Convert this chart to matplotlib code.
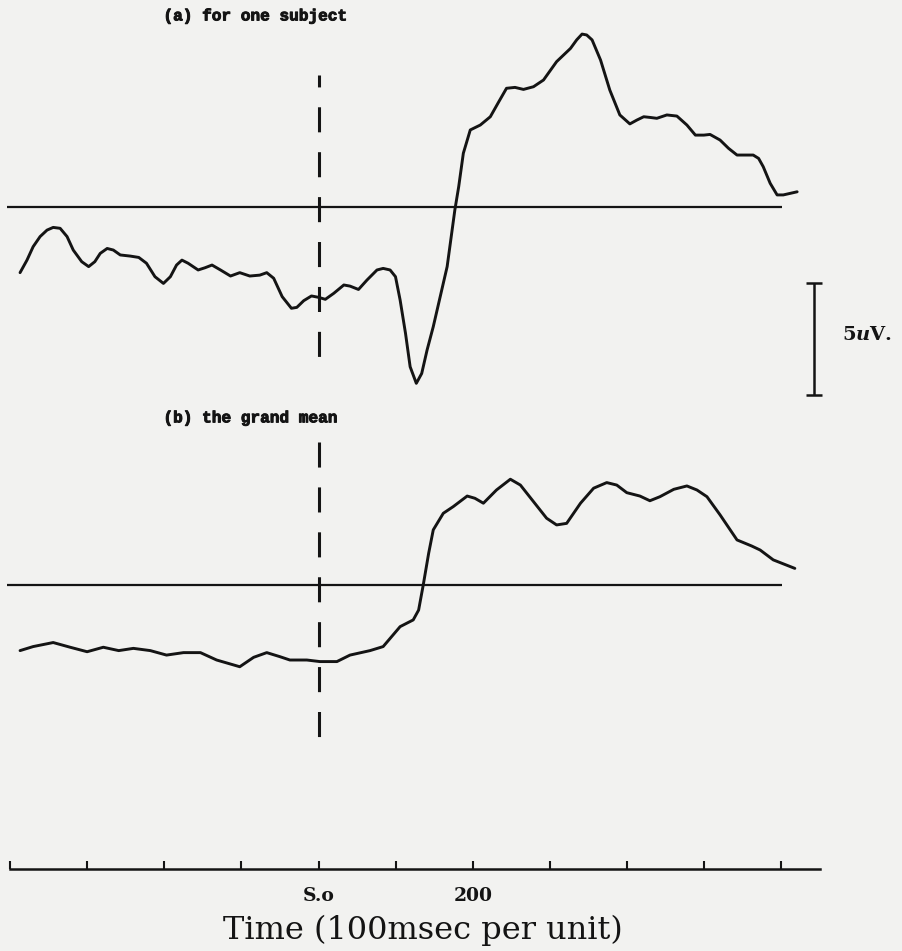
import matplotlib
matplotlib.use('Agg')
import matplotlib.pyplot as plt
import matplotlib.patheffects as pe

# time in ms (0 = stimulus onset), amplitude in uV
t_a = [-388, -379, -371, -362, -353, -345, -336, -327, -319, -308, -299, -291, -284,
       -275, -267, -258, -245, -234, -224, -213, -202, -193, -185, -178, -170, -157,
       -148, -139, -128, -115, -103, -90, -77, -68, -59, -48, -36, -29, -20, -10, -1,
       8, 19, 32, 40, 51, 62, 75, 83, 92, 99, 105, 112, 118, 126, 133, 140, 148, 157,
       166, 176, 181, 187, 196, 209, 222, 233, 243, 254, 265, 278, 291, 308, 326, 334,
       341, 347, 354, 365, 377, 390, 403, 412, 421, 429, 438, 451, 464, 477, 488, 499,
       507, 520, 531, 542, 555, 563, 570, 576, 585, 594, 602, 611, 620]
v_a = [-2.93, -2.37, -1.77, -1.32, -1.03, -0.91, -0.95, -1.32, -1.92, -2.44, -2.66, -2.44,
       -2.07, -1.85, -1.92, -2.14, -2.19, -2.25, -2.51, -3.11, -3.41, -3.11, -2.59, -2.37,
       -2.51, -2.81, -2.71, -2.59, -2.81, -3.08, -2.93, -3.08, -3.04, -2.93, -3.18, -4.00,
       -4.52, -4.48, -4.18, -3.97, -4.03, -4.12, -3.85, -3.48, -3.53, -3.68, -3.26, -2.81,
       -2.74, -2.81, -3.11, -4.15, -5.64, -7.13, -7.87, -7.43, -6.38, -5.34, -4.00, -2.66,
       -0.13, 0.91, 2.40, 3.44, 3.66, 4.03, 4.70, 5.30, 5.34, 5.25, 5.37, 5.67, 6.49, 7.08,
       7.46, 7.72, 7.68, 7.46, 6.56, 5.22, 4.11, 3.71, 3.88, 4.03, 4.00, 3.96, 4.11, 4.06,
       3.66, 3.21, 3.21, 3.24, 2.99, 2.62, 2.32, 2.32, 2.32, 2.17, 1.80, 1.06, 0.54, 0.54,
       0.61, 0.68]

t_b = [-388, -371, -345, -323, -301, -280, -260, -241, -219, -198, -176, -154, -133,
       -103, -85, -68, -51, -38, -16, 1, 23, 40, 66, 83, 105, 122, 129, 135, 142, 148,
       161, 174, 192, 202, 213, 230, 248, 261, 278, 295, 308, 321, 339, 356, 373, 386,
       399, 416, 429, 442, 460, 477, 490, 503, 520, 542, 561, 572, 589, 617]
v_b = [-2.93, -2.75, -2.57, -2.78, -2.98, -2.78, -2.93, -2.83, -2.93, -3.13, -3.02, -3.02,
       -3.35, -3.65, -3.23, -3.02, -3.20, -3.35, -3.35, -3.42, -3.42, -3.13, -2.93, -2.75,
       -1.86, -1.56, -1.12, 0.0, 1.41, 2.46, 3.20, 3.50, 3.97, 3.87, 3.65, 4.24, 4.72, 4.46,
       3.72, 2.98, 2.68, 2.75, 3.65, 4.32, 4.57, 4.46, 4.12, 3.97, 3.76, 3.94, 4.27, 4.42,
       4.24, 3.94, 3.13, 2.01, 1.74, 1.56, 1.12, 0.74]

tick_ms = [-400, -300, -200, -100, 0, 100, 200, 300, 400, 500, 600]
tick_labels = ['', '', '', '', 'S.o', '', '200', '', '', '', '']
scale_uv = 5

paper = '#f2f2f0'
ink = '#141414'

plt.rcParams['mathtext.fontset'] = 'custom'
plt.rcParams['mathtext.rm'] = 'DejaVu Serif:bold'
plt.rcParams['mathtext.it'] = 'DejaVu Serif:italic:bold'

fig = plt.figure(figsize=(9.02, 9.51), dpi=100, facecolor=paper)

xlim = (-414, 756)
ax_a = fig.add_axes([0, 0.5478, 1, 0.4522])
ax_a.set_xlim(xlim)
ax_a.set_ylim(-9.955, 9.241)
ax_b = fig.add_axes([0, 0.1588, 1, 0.3891])
ax_b.set_xlim(xlim)
ax_b.set_ylim(-9.598, 6.920)

for ax in (ax_a, ax_b):
    ax.set_axis_off()
    ax.patch.set_alpha(0)
    ax.hlines(0, -405, 600, color=ink, lw=1.6)

ax_a.plot(t_a, v_a, color=ink, lw=2.1, solid_joinstyle='round', solid_capstyle='round')
ax_b.plot(t_b, v_b, color=ink, lw=2.1, solid_joinstyle='round', solid_capstyle='round')

# stimulus onset
ax_a.plot([0, 0], [5.89, -6.92], color=ink, lw=2.2, linestyle=(4.3, (8.2, 6.5)))
ax_b.plot([0, 0], [6.38, -6.79], color=ink, lw=2.2, linestyle=(0, (8.2, 6.5)))

heavy = [pe.withStroke(linewidth=0.7, foreground=ink)]
ax_a.text(-202, 8.53, '(a) for one subject', family='Liberation Mono', weight='bold',
          fontsize=11.6, color=ink, va='center', ha='left', path_effects=heavy)
ax_b.text(-202, 7.46, '(b) the grand mean', family='Liberation Mono', weight='bold',
          fontsize=11.6, color=ink, va='center', ha='left', path_effects=heavy)

# calibration bar
ax_a.errorbar(642, -3.41 - scale_uv / 2, yerr=scale_uv / 2, color=ink, lw=1.8,
              capsize=5.8, capthick=1.8)
ax_a.text(678, -5.71, r'5$u$V.', family='DejaVu Serif', weight='bold', fontsize=14,
          color=ink, va='center', ha='left')

# time axis
ax_t = fig.add_axes([10 / 902, 0.0862, 810 / 902, 0.05])
ax_t.patch.set_alpha(0)
ax_t.set_xlim(-400, 650)
for s in ('top', 'left', 'right'):
    ax_t.spines[s].set_visible(False)
ax_t.spines['bottom'].set_linewidth(1.8)
ax_t.spines['bottom'].set_color(ink)
ax_t.set_yticks([])
ax_t.set_xticks(tick_ms)
ax_t.set_xticklabels(tick_labels, family='DejaVu Serif', weight='bold', fontsize=13.5)
ax_t.tick_params(axis='x', direction='in', length=6, width=1.5, color=ink,
                 labelcolor=ink, pad=13)
ax_t.set_xlabel('Time (100msec per unit)', family='DejaVu Serif', fontsize=23,
                color=ink)
ax_t.xaxis.set_label_coords((423 - 10) / 810, -0.97)

fig.savefig('out.png', dpi=100, facecolor=paper)
